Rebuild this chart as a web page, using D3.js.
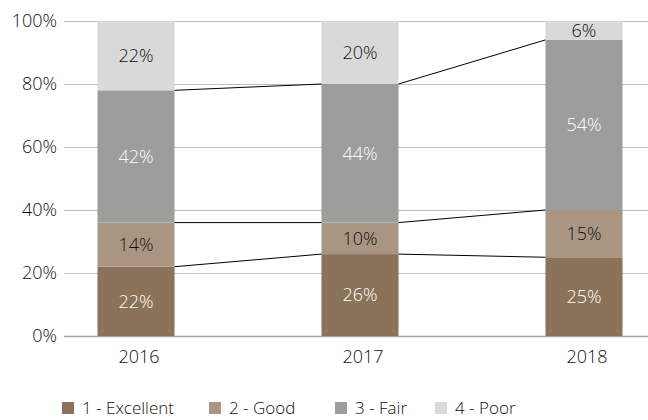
<!DOCTYPE html>
<html lang="en">
<head>
<meta charset="UTF-8">
<title>Rating distribution by year</title>
<script src="https://d3js.org/d3.v7.min.js"></script>
<style>
  body { margin: 0; background: #fff; }
  text { font-family: "Open Sans", "Noto Sans", sans-serif; font-weight: 300; }
</style>
</head>
<body>
<div id="chart"></div>
<script>

// Data
const years = ["2016", "2017", "2018"];
const seriesNames = ["1 - Excellent", "2 - Good", "3 - Fair", "4 - Poor"];
const excellent = [22, 26, 25];
const good = [14, 10, 15];
const fair = [42, 44, 54];
const poor = [22, 20, 6];
const yTicks = [0, 20, 40, 60, 80, 100];

const colors = ["#8b7359", "#a99581", "#9d9d9c", "#d9d9d9"];
const labelColors = ["#ffffff", "#111111", "#ffffff", "#111111"];

const width = 648, height = 420;

const svg = d3.select("#chart").append("svg")
    .attr("width", width)
    .attr("height", height);

// Scales
const x = d3.scalePoint().domain(years).range([136, 584]);
const y = d3.scaleLinear().domain([0, 100]).range([336, 21]);
const barW = 77;

// Build stacked rows
const rows = years.map((yr, i) => ({
    year: yr,
    s0: excellent[i], s1: good[i], s2: fair[i], s3: poor[i]
}));
const stack = d3.stack().keys(["s0", "s1", "s2", "s3"])(rows);

// Gridlines
svg.append("g")
    .selectAll("line")
    .data(yTicks)
    .join("line")
    .attr("x1", 64)
    .attr("x2", width)
    .attr("y1", d => Math.round(y(d)) + 0.5)
    .attr("y2", d => Math.round(y(d)) + 0.5)
    .attr("stroke", d => d === 0 ? "#a6a6a6" : "#bfbfbf")
    .attr("stroke-width", d => d === 0 ? 1.5 : 1);

// Y axis labels
svg.append("g")
    .selectAll("text")
    .data(yTicks)
    .join("text")
    .attr("x", 57)
    .attr("y", d => y(d))
    .attr("dy", "0.35em")
    .attr("text-anchor", "end")
    .attr("font-size", 18)
    .attr("fill", "#111")
    .text(d => d + "%");

// Bars
const layer = svg.append("g")
    .selectAll("g")
    .data(stack)
    .join("g")
    .attr("fill", (d, i) => colors[i]);

layer.selectAll("rect")
    .data(d => d)
    .join("rect")
    .attr("x", d => x(d.data.year) - barW / 2)
    .attr("width", barW)
    .attr("y", d => y(d[1]))
    .attr("height", d => y(d[0]) - y(d[1]));

// Series lines between bar boundaries
const lineG = svg.append("g")
    .attr("stroke", "#000")
    .attr("stroke-width", 1)
    .attr("fill", "none");

stack.slice(0, 3).forEach(s => {
    for (let i = 0; i < s.length - 1; i++) {
        lineG.append("line")
            .attr("x1", x(s[i].data.year) + barW / 2)
            .attr("y1", y(s[i][1]))
            .attr("x2", x(s[i + 1].data.year) - barW / 2)
            .attr("y2", y(s[i + 1][1]));
    }
});

// Data labels
stack.forEach((s, si) => {
    svg.append("g")
        .selectAll("text")
        .data(s)
        .join("text")
        .attr("x", d => x(d.data.year))
        .attr("y", d => (y(d[0]) + y(d[1])) / 2)
        .attr("dy", "0.35em")
        .attr("text-anchor", "middle")
        .attr("font-size", 18)
        .attr("fill", labelColors[si])
        .text(d => (d[1] - d[0]) + "%");
});

// X axis labels
svg.append("g")
    .selectAll("text")
    .data(years)
    .join("text")
    .attr("x", d => x(d) + 3)
    .attr("y", 363)
    .attr("text-anchor", "middle")
    .attr("font-size", 18)
    .attr("fill", "#111")
    .text(d => d);

// Legend
const legendX = [62, 209, 335, 435];
const legend = svg.append("g")
    .selectAll("g")
    .data(seriesNames)
    .join("g")
    .attr("transform", (d, i) => `translate(${legendX[i]},402)`);

legend.append("rect")
    .attr("width", 12)
    .attr("height", 12)
    .attr("fill", (d, i) => colors[i]);

legend.append("text")
    .attr("x", 20)
    .attr("y", 6)
    .attr("dy", "0.38em")
    .attr("font-size", 17)
    .attr("fill", "#111")
    .text(d => d);

</script>
</body>
</html>
